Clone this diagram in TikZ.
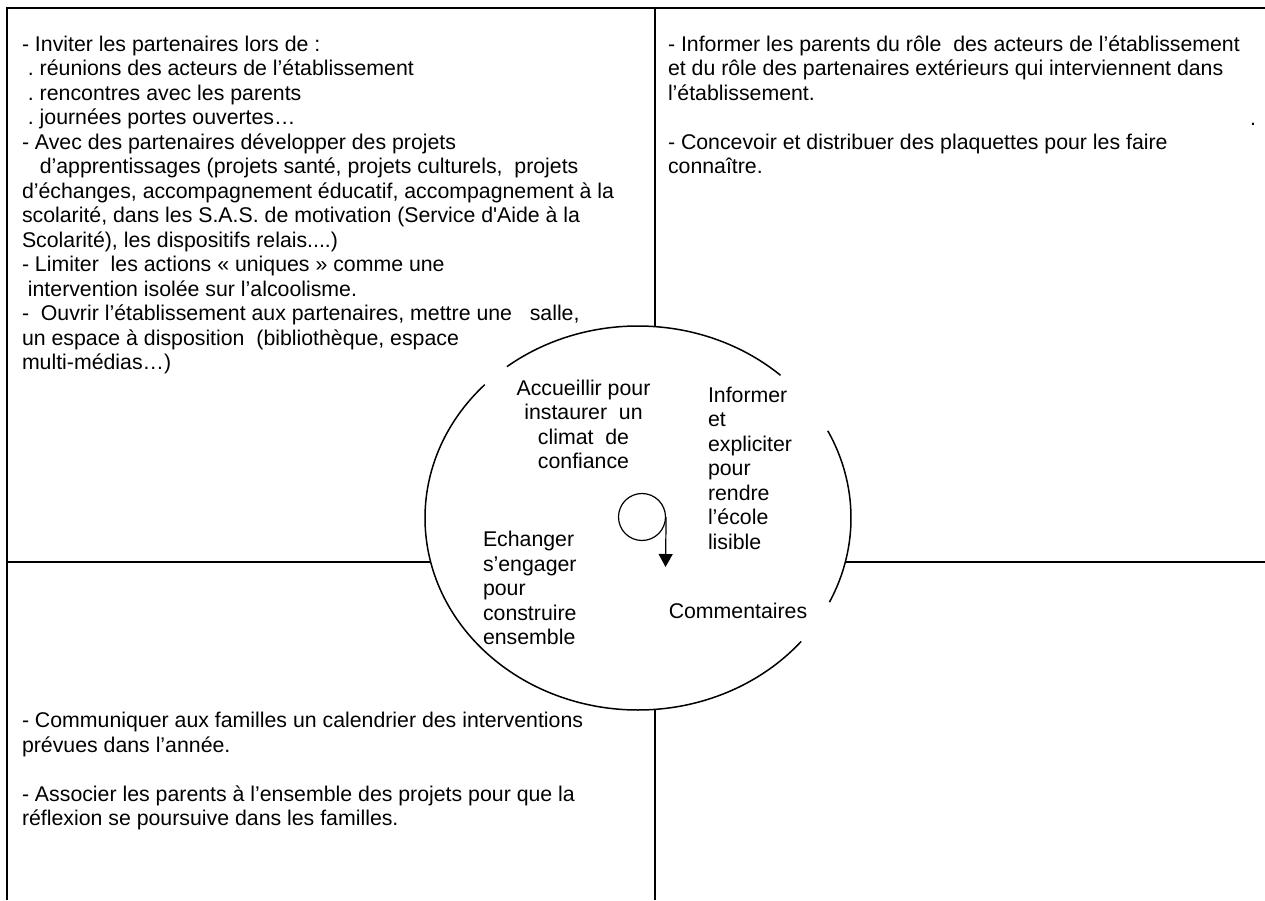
\documentclass[tikz,border=0pt]{standalone}
\usepackage{fontspec}
\setmainfont{Liberation Sans}
\usetikzlibrary{arrows.meta}
\begin{document}
\begin{tikzpicture}[x=1pt,y=1pt,
  txt/.style={inner sep=0pt, outer sep=0pt, font=\fontsize{21.3}{24.5}\selectfont\frenchspacing, align=left, anchor=north west},
  ctxt/.style={txt, align=center, anchor=north},
  frame/.style={line width=1.9pt},
  ring/.style={line width=1.5pt},
]
\useasboundingbox (0,0) rectangle (1265,900);
% frame and dividers
\coordinate (BL) at (7,0);
\coordinate (TL) at (7,892);
\coordinate (TR) at (1265,892);
\coordinate (VT) at (655,892);
\coordinate (VB) at (655,0);
\coordinate (HL) at (7,338);
\coordinate (HR) at (1265,338);
\coordinate (C) at (638,382);
\coordinate (Etop) at (655,573.4);
\coordinate (Ebot) at (655,190.6);
\coordinate (Eleft) at (430.7,338);
\coordinate (Eright) at (845.3,338);
\draw[frame] (BL) -- (TL) -- (TR);
\draw[frame] (VT) -- (Etop);
\draw[frame] (Ebot) -- (VB);
\draw[frame] (HL) -- (Eleft);
\draw[frame] (Eright) -- (HR);
% ellipse arcs
\draw[ring] (C) ++(48:213pt and 192pt) arc[start angle=48,end angle=128,x radius=213pt,y radius=192pt];
\draw[ring] (C) ++(136:213pt and 192pt) arc[start angle=136,end angle=320,x radius=213pt,y radius=192pt];
\draw[ring] (C) ++(-26:213pt and 192pt) arc[start angle=-26,end angle=27,x radius=213pt,y radius=192pt];
% loop arrow
\node[draw, circle, minimum size=47pt, inner sep=0pt, line width=1.2pt] (loop) at (642,383) {};
\coordinate (tip) at (665.5,333);
\draw[line width=1.2pt, -{Triangle[width=14pt,length=13pt]}] (loop.east) -- (tip);
% texts
\node[txt] (tl) at (22,865.65) {\strut- Inviter les partenaires lors de :\\
\ . réunions des acteurs de l’établissement\\
\ . rencontres avec les parents\\
\ . journées portes ouvertes…\\
- Avec des partenaires développer des projets\\
\ \ \ d’apprentissages (projets santé, projets culturels,\ \ projets\\
d’échanges, accompagnement éducatif, accompagnement à la\\
scolarité, dans les S.A.S. de motivation (Service d\textquotesingle Aide à la\\
Scolarité), les dispositifs relais....)\\
- Limiter\ \ les actions « uniques » comme une\\
\ intervention isolée sur l’alcoolisme.\\
-\ \ Ouvrir l’établissement aux partenaires, mettre une\ \ \ salle,\\
un espace à disposition\ \ (bibliothèque, espace\\
multi-médias…)};
\node[txt] (tr) at (668,865.65) {\strut- Informer les parents du rôle\ \ des acteurs de l’établissement\\
et du rôle des partenaires extérieurs qui interviennent dans\\
l’établissement.\\[24.5pt]
- Concevoir et distribuer des plaquettes pour les faire\\
connaître.};
\node[txt, anchor=base] (dot) at (1253,774) {.};
\node[txt] (bl) at (22,189.65) {\strut- Communiquer aux familles un calendrier des interventions\\
prévues dans l’année.\\[24.5pt]
- Associer les parents à l’ensemble des projets pour que la\\
réflexion se poursuive dans les familles.};
\node[ctxt] (acc) at (583.5,521.65) {\strut Accueillir pour\\instaurer\ \ un\\climat\ \ de\\confiance};
\node[txt] (inf) at (708,514.65) {\strut Informer\\et\\expliciter\\pour\\rendre\\l’école\\lisible};
\node[txt] (ech) at (483,370.65) {\strut Echanger\\s’engager\\pour\\construire\\ensemble};
\node[txt, anchor=base] (com) at (738,281.5) {Commentaires};
\end{tikzpicture}
\end{document}
